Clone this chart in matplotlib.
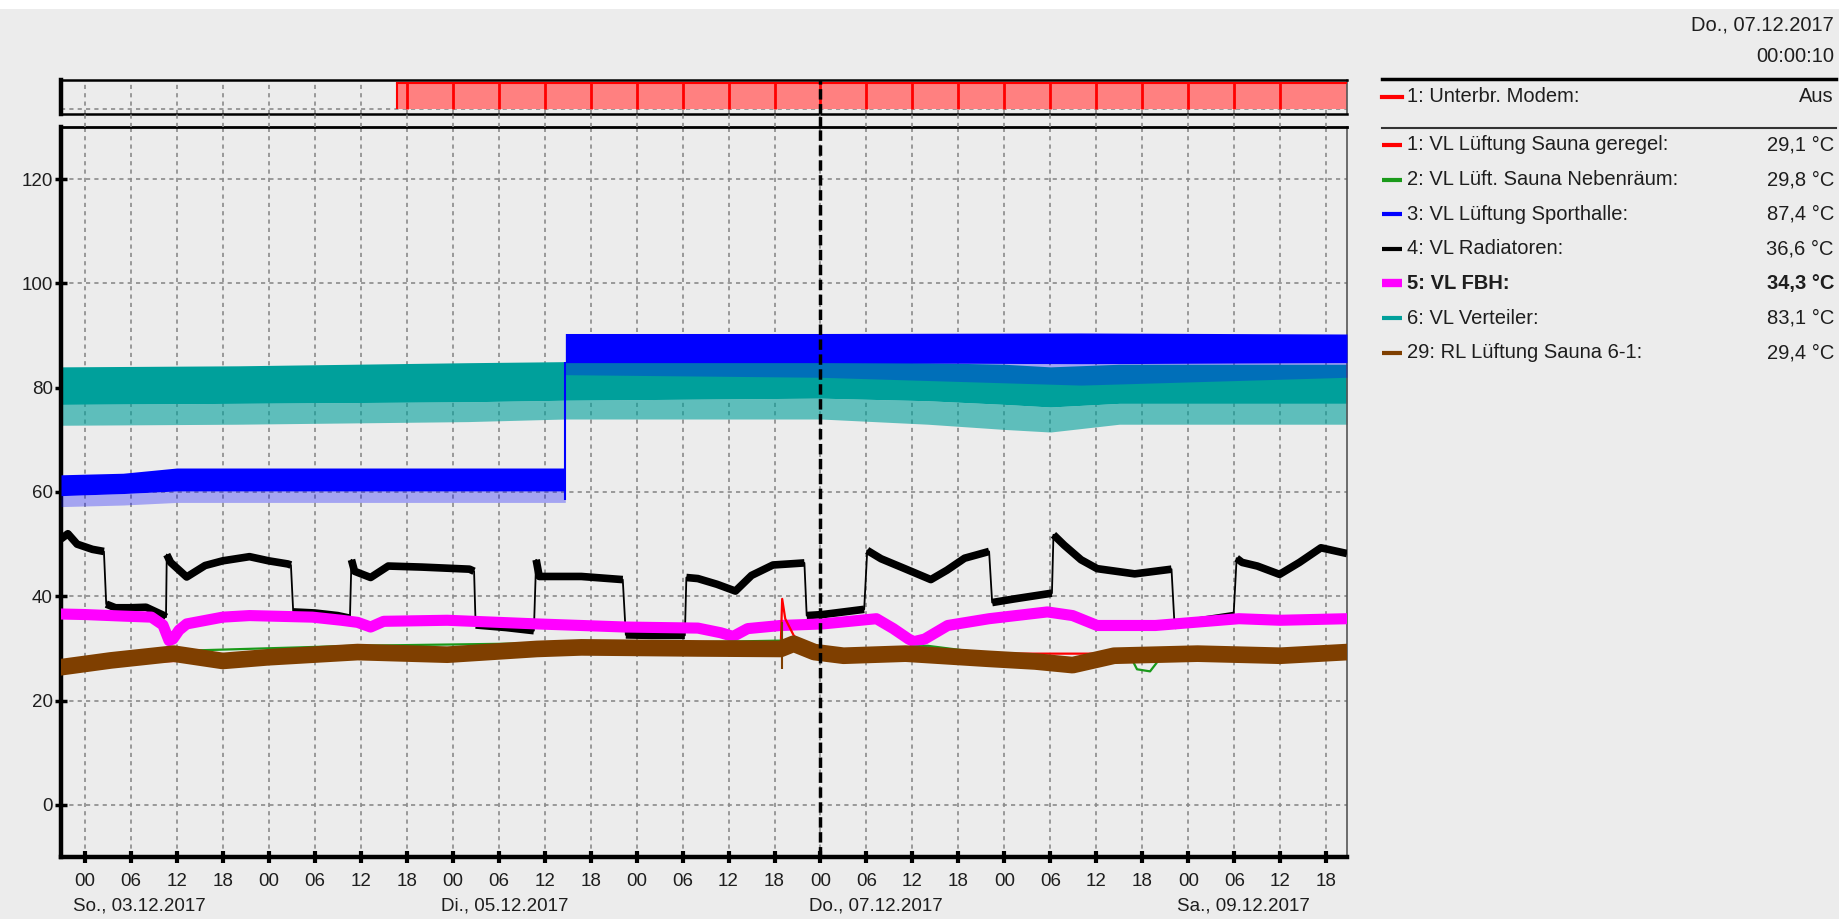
import numpy as np
import matplotlib.pyplot as plt
import matplotlib.transforms as mtransforms

plt.rcParams['font.family'] = ['Liberation Sans', 'DejaVu Sans']

W, H = 1840, 919
BG = '#ececec'
TXT = '#1e1e1e'

# time axis: hours counted from So., 03.12.2017 00:00
hour_ticks = list(range(0, 163, 6))
date_ticks = [0, 48, 96, 144]
date_labels = ['So., 03.12.2017', 'Di., 05.12.2017', 'Do., 07.12.2017', 'Sa., 09.12.2017']
x_start, x_end = -3.1, 164.7
cursor_h = 96
y_ticks = [0, 20, 40, 60, 80, 100, 120]

# 1: Unterbr. Modem (0 = aus, 1 = an)
modem_t = [x_start, 40.8, x_end]
modem_v = [0, 1, 1]

# 6: VL Verteiler - noisy band (core and lower spikes)
teal_t = [x_start, 20, 50, 62.7, 96, 110, 120, 126, 135, x_end]
teal_lo = [76.8, 77.0, 77.3, 77.6, 78.0, 77.5, 76.8, 76.3, 77.0, 77.0]
teal_hi = [84.0, 84.2, 84.8, 85.0, 85.0, 84.8, 84.5, 84.0, 84.5, 84.5]
teal_min = [72.8, 73.0, 73.5, 74.0, 74.0, 73.0, 72.0, 71.5, 73.0, 73.0]

# 3: VL Lüftung Sporthalle - noisy band with a step
blue_t = [x_start, 5, 12, 62.7, 62.71, 96, 130, x_end]
blue_lo = [59.3, 59.7, 60.2, 60.2, 84.8, 84.8, 84.6, 84.8]
blue_hi = [63.3, 63.6, 64.6, 64.6, 90.4, 90.4, 90.5, 90.3]
blue_min = [57.2, 57.5, 58.0, 58.0, 82.5, 82.0, 80.5, 82.0]
blue_step_t = 62.7
blue_step = (58.5, 85.0)

# 4: VL Radiatoren
rad_t = [x_start, -2.2, -1, 1, 2.5, 2.8, 4, 6, 8, 10.2, 10.6, 10.7, 11.2, 13.3, 15.7, 18, 21.5, 24,
         26.5, 26.9, 27.2, 30, 33, 34.6, 34.8, 35.2, 37.3, 39.6, 44, 50.2, 50.8, 51.0, 55, 58.6,
         58.9, 59.3, 64.8, 70.2, 70.6, 74, 78.3, 78.5, 80, 82.5, 84.9, 87, 89.8, 93.9, 94.2, 96.3,
         101.7, 102.1, 103.9, 107, 110.4, 112.5, 114.8, 118, 118.4, 121.3, 126.2, 126.4, 127.8,
         130, 132.1, 137, 141.8, 142.2, 145, 149.9, 150.3, 151, 153, 155.9, 158.5, 161.3, x_end]
rad_v = [51.0, 52.0, 50.0, 49.0, 48.6, 38.5, 37.8, 37.8, 37.9, 36.4, 36.0, 48.0, 46.5, 43.7, 45.9,
         46.8, 47.6, 46.8, 46.2, 46.0, 37.0, 36.8, 36.3, 35.8, 47.0, 44.8, 43.6, 45.8, 45.6, 45.2,
         44.8, 34.5, 34.0, 33.4, 47.0, 43.8, 43.8, 43.2, 32.6, 32.5, 32.5, 43.6, 43.4, 42.3, 41.0,
         44.0, 46.0, 46.4, 36.3, 36.5, 37.5, 48.8, 47.2, 45.3, 43.2, 45.0, 47.3, 48.6, 38.8, 39.5,
         40.6, 51.8, 49.8, 47.0, 45.3, 44.3, 45.2, 34.4, 35.2, 36.3, 47.3, 46.5, 45.8, 44.2, 46.5,
         49.3, 48.2]

# 5: VL FBH
fbh_t = [x_start, 0, 5, 8.7, 10.2, 11.0, 11.5, 12.3, 13.3, 18, 21.5, 29.7, 33.5, 35.6, 37.3, 39,
         47.3, 59, 70.6, 80, 83, 84.6, 86.5, 90.8, 96.3, 103.3, 105.5, 107.5, 108.2, 109.6, 112.6,
         118, 125.6, 128.9, 132.1, 139.7, 150.6, 156, x_end]
fbh_v = [36.6, 36.5, 36.2, 36.0, 34.5, 31.5, 31.8, 33.5, 34.7, 36.0, 36.3, 36.0, 35.4, 35.0, 34.1,
         35.2, 35.4, 34.7, 34.1, 33.9, 33.0, 32.3, 33.8, 34.4, 34.7, 35.7, 33.8, 31.8, 31.3, 31.8,
         34.4, 35.7, 37.0, 36.3, 34.4, 34.4, 35.7, 35.4, 35.7]

# 1: VL Lüftung Sauna geregel
red_t = [x_start, 60, 90.8, 91.0, 91.4, 92.5, 93.6, 96, x_end]
red_v = [27.0, 29.5, 29.8, 39.5, 35.7, 32.5, 30.9, 29.0, 29.0]

# 2: VL Lüft. Sauna Nebenräum
green_t = [x_start, 11.6, 35, 60, 80, 90.8, 91.2, 93, 100, 110, 118, 128, 136.5, 137.3, 139.0,
           140.0, 141, x_end]
green_v = [27.5, 29.5, 30.5, 31.0, 31.2, 31.5, 31.5, 30.0, 29.5, 30.5, 29.0, 28.0, 28.3, 26.0,
           25.6, 27.5, 28.8, 29.8]

# 29: RL Lüftung Sauna 6-1
brown_t = [x_start, 3.4, 11.6, 18, 23.9, 35.6, 47.3, 59, 64.8, 80, 90.8, 92.5, 95.2, 99, 107.1,
           118, 124, 128.9, 134.3, 145.2, 156, x_end]
brown_v = [26.4, 27.7, 29.0, 27.6, 28.3, 29.3, 28.8, 29.9, 30.2, 30.0, 29.9, 30.9, 29.3, 28.6,
           29.0, 28.0, 27.5, 26.8, 28.6, 29.0, 28.6, 29.3]
brown_spike_t = 91.0
brown_spike = (26.0, 35.0)

# legend panel
header_date = 'Do., 07.12.2017'
header_time = '00:00:10'
modem_name, modem_value = '1: Unterbr. Modem:', 'Aus'
legend_names = ['1: VL Lüftung Sauna geregel:', '2: VL Lüft. Sauna Nebenräum:',
                '3: VL Lüftung Sporthalle:', '4: VL Radiatoren:', '5: VL FBH:',
                '6: VL Verteiler:', '29: RL Lüftung Sauna 6-1:']
legend_values = ['29,1 °C', '29,8 °C', '87,4 °C', '36,6 °C', '34,3 °C', '83,1 °C', '29,4 °C']
legend_colors = ['#ff0000', '#1a9a1a', '#0000ff', '#000000', '#ff00ff', '#00a09b', '#7f3f00']

grid_kw = dict(color='#8a8a8a', linestyle=(0, (2.5, 2.5)), linewidth=1.2)
FS = 13.5
FS_LEG = 14.5

fig = plt.figure(figsize=(W / 100, H / 100), dpi=100)
fig.patch.set_facecolor(BG)


def px_axes(left, top, right, bottom):
    return fig.add_axes([left / W, 1 - bottom / H, (right - left) / W, (bottom - top) / H])


# ---- main chart
ax = px_axes(61, 127, 1347, 857)
ax.set_facecolor(BG)
ax.set_xlim(x_start, x_end)
ax.set_ylim(-10, 130)
ax.set_xticks(hour_ticks)
ax.set_xticklabels([])
ax.set_yticks(y_ticks)
ax.set_yticklabels([str(v) for v in y_ticks], fontsize=FS, color=TXT)
ax.tick_params(axis='x', direction='inout', length=8, width=3, color='black')
ax.tick_params(axis='y', direction='inout', length=8, width=2.5, pad=2, color='black')
for v in y_ticks:
    ax.axhline(v, zorder=0.5, **grid_kw)
for h in hour_ticks:
    ax.axvline(h, zorder=0.5, **grid_kw)
ax.spines['left'].set_linewidth(3.2)
ax.spines['bottom'].set_linewidth(3.2)
ax.spines['top'].set_linewidth(2)
ax.spines['right'].set_linewidth(1.2)
ax.spines['right'].set_color('#555555')

# teal band
ax.fill_between(teal_t, teal_min, teal_lo, color='#00a09b', alpha=0.6, lw=0, zorder=2)
ax.fill_between(teal_t, teal_lo, teal_hi, color='#00a09b', lw=0, zorder=2)
# blue band on top
ax.fill_between(blue_t, blue_min, blue_lo, color='#0000ff', alpha=0.3, lw=0, zorder=3)
ax.fill_between(blue_t, blue_lo, blue_hi, color='#0000ff', lw=0, zorder=3)
ax.vlines(blue_step_t, blue_step[0], blue_step[1], color='#0000ff', lw=1.5, zorder=3)

# radiators: thick plateaus, thin steps
rt, rv = np.array(rad_t), np.array(rad_v)
jump = np.where((np.diff(rt) < 0.5) & (np.abs(np.diff(rv)) > 5))[0]
starts = np.r_[0, jump + 1]
ends = np.r_[jump + 1, len(rt)]
for s, e in zip(starts, ends):
    ax.plot(rt[s:e], rv[s:e], color='black', lw=5.5, solid_capstyle='butt',
            solid_joinstyle='round', zorder=4)
ax.plot(rt, rv, color='black', lw=1.3, zorder=4)

ax.plot(fbh_t, fbh_v, color='#ff00ff', lw=8, solid_joinstyle='round', zorder=5)

ax.plot(red_t, red_v, color='#ff0000', lw=1.6, zorder=6)
ax.plot(green_t, green_v, color='#1a9a1a', lw=1.6, zorder=6)
ax.plot(brown_t, brown_v, color='#7f3f00', lw=12, solid_joinstyle='round', zorder=7)
ax.vlines(brown_spike_t, brown_spike[0], brown_spike[1], color='#7f3f00', lw=1.5, zorder=7)

ax.axvline(cursor_h, color='black', lw=2.5, linestyle=(0, (3, 1.3)), zorder=9)

# hour and date labels below the axis
tr = mtransforms.blended_transform_factory(ax.transData, ax.transAxes)
for h in hour_ticks:
    ax.text(h, -0.034, f'{h % 24:02d}', transform=tr, ha='center', va='center',
            fontsize=FS, color=TXT)
for h, lab in zip(date_ticks, date_labels):
    ax.text(h - 1.5, -0.067, lab, transform=tr, ha='left', va='center',
            fontsize=FS, color=TXT)

# ---- modem strip on top
axm = px_axes(61, 80, 1347, 114)
axm.set_facecolor(BG)
axm.set_xlim(x_start, x_end)
axm.set_ylim(-0.19, 1.1)
axm.set_xticks([])
axm.set_yticks([])
for h in hour_ticks:
    axm.axvline(h, zorder=0.5, **grid_kw)
axm.axhline(0, zorder=0.5, **grid_kw)
axm.fill_between(modem_t, 0, modem_v, step='post', color='#ff8080', lw=0, zorder=2)
mt, mv = np.array(modem_t), np.array(modem_v)
on = mv > 0
axm.plot(mt[on], mv[on], color='#ff0000', lw=1.5, zorder=3)
axm.vlines(mt[on][0], 0, 1, color='#ff0000', lw=1.5, zorder=3)
marks = [h for h in hour_ticks if mt[on][0] < h < hour_ticks[-1]]
axm.vlines(marks, 0, 1, color='#ff0000', lw=2, zorder=3)
axm.axvline(cursor_h, color='black', lw=2.5, linestyle=(0, (3, 1.3)), zorder=9)
axm.spines['left'].set_linewidth(3.2)
axm.spines['top'].set_linewidth(1.8)
axm.spines['bottom'].set_linewidth(1.8)
axm.spines['right'].set_linewidth(1.2)
axm.spines['right'].set_color('#555555')

# gap between the two panels: grid continues
axg = px_axes(61, 114, 1347, 127)
axg.set_xlim(x_start, x_end)
axg.axis('off')
for h in hour_ticks:
    axg.axvline(h, **grid_kw)
axg.axvline(cursor_h, color='black', lw=2.5, linestyle=(0, (3, 1.3)))

# ---- overlay in pixel coordinates for the legend panel
ov = fig.add_axes([0, 0, 1, 1])
ov.set_xlim(0, W)
ov.set_ylim(H, 0)
ov.axis('off')
ov.fill_between([0, W], 0, 9, color='white', lw=0)
ov.text(1834, 25, header_date, ha='right', va='center', fontsize=FS_LEG, color=TXT)
ov.text(1834, 57, header_time, ha='right', va='center', fontsize=FS_LEG, color=TXT)
ov.plot([1382, 1836], [79, 79], color='black', lw=2.5)
ov.plot([1382, 1402], [97, 97], color='#ff0000', lw=3)
ov.text(1407, 97, modem_name, ha='left', va='center', fontsize=FS_LEG, color=TXT)
ov.text(1834, 97, modem_value, ha='right', va='center', fontsize=FS_LEG, color=TXT)
ov.plot([1382, 1836], [128, 128], color='#333333', lw=1.5)
for i, (name, val, col) in enumerate(zip(legend_names, legend_values, legend_colors)):
    y = 145 + i * 34.6
    bold = name.startswith('5:')
    ov.plot([1382, 1402], [y, y], color=col, lw=6 if bold else 3, solid_capstyle='butt')
    ov.text(1407, y, name, ha='left', va='center', fontsize=FS_LEG, color=TXT,
            fontweight='bold' if bold else 'normal')
    ov.text(1834, y, val, ha='right', va='center', fontsize=FS_LEG, color=TXT,
            fontweight='bold' if bold else 'normal')

fig.savefig('out.png', dpi=100, facecolor=BG)
